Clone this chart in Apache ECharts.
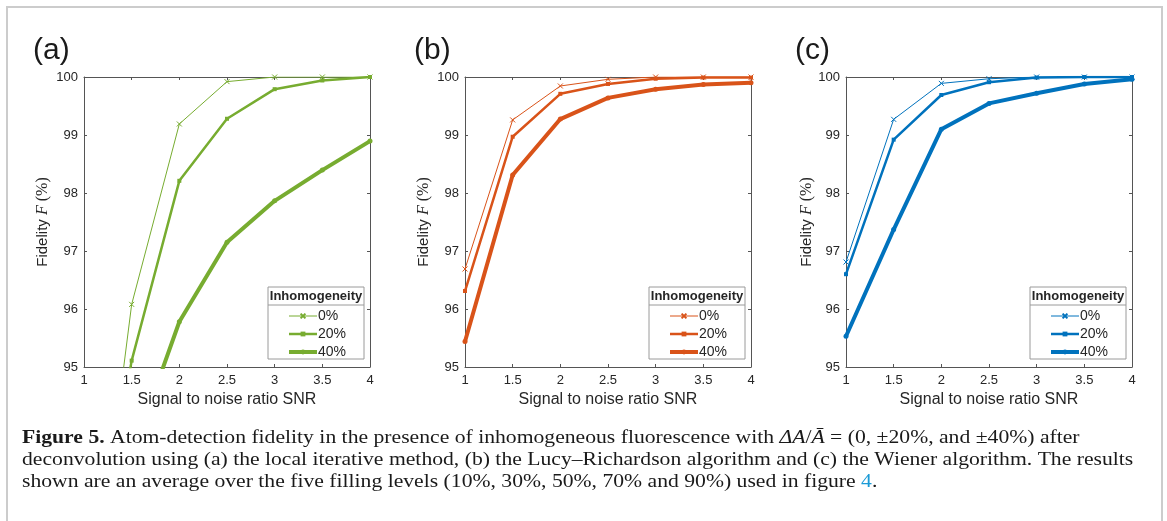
<!DOCTYPE html>
<html>
<head>
<meta charset="utf-8">
<script src="https://cdn.jsdelivr.net/npm/echarts@6/dist/echarts.min.js"></script>
<style>
  html, body { margin: 0; padding: 0; background: #fff; }
  #chart { width: 1167px; height: 521px; }
</style>
</head>
<body>
<div id="chart"></div>
<script>
// SNR values shared by all panels
const snr = [1, 1.5, 2, 2.5, 3, 3.5, 4];
const levels = ["0%", "20%", "40%"];

// (a) local iterative method
const localIter0 = [89.6, 96.08, 99.19, 99.92, 100, 100, 100];
const localIter20 = [90.5, 95.11, 98.21, 99.28, 99.79, 99.94, 100];
const localIter40 = [90.0, 93.47, 95.78, 97.15, 97.865, 98.395, 98.895];

// (b) Lucy–Richardson
const lucy0 = [96.69, 99.26, 99.845, 99.96, 100, 100, 100];
const lucy20 = [96.31, 98.97, 99.71, 99.88, 99.97, 99.99, 99.99];
const lucy40 = [95.44, 98.31, 99.275, 99.64, 99.79, 99.87, 99.9];

// (c) Wiener
const wiener0 = [96.81, 99.27, 99.89, 99.97, 100, 100, 100];
const wiener20 = [96.6, 98.92, 99.69, 99.91, 99.99, 100, 100];
const wiener40 = [95.53, 97.37, 99.1, 99.545, 99.72, 99.88, 99.96];

const panels = [
  { tag: "(a)", key: "a", color: "#77AC30", data: [localIter0, localIter20, localIter40] },
  { tag: "(b)", key: "b", color: "#D95319", data: [lucy0, lucy20, lucy40] },
  { tag: "(c)", key: "c", color: "#0072BD", data: [wiener0, wiener20, wiener40] },
];

const chart = echarts.init(document.getElementById("chart"));

const plotLeft = [84, 465, 846];
const plotTop = 77;
const plotW = 286;
const plotH = 290;
const axisColor = "#555555";
const sans = "Liberation Sans, Arial, sans-serif";
const widths = [1, 2.5, 4];
const crossPath = "path://M0,0L10,10M0,10L10,0";

let grid = [];
let xAxis = [];
let yAxis = [];
let series = [];
let legend = [];
let graphic = [];

panels.forEach((p, i) => {
  grid.push({ left: plotLeft[i], top: plotTop, width: plotW, height: plotH });
  // bottom axis with labels, top axis with ticks only
  xAxis.push({
    gridIndex: i,
    type: "value",
    min: 1,
    max: 4,
    interval: 0.5,
    name: "Signal to noise ratio SNR",
    nameLocation: "center",
    nameGap: 25,
    nameTextStyle: { fontFamily: sans, fontSize: 16, color: "#262626" },
    axisLine: { show: true, lineStyle: { color: axisColor, width: 1 } },
    axisTick: { show: true, inside: true, length: 3, lineStyle: { color: axisColor } },
    axisLabel: { fontFamily: sans, fontSize: 13, color: "#262626", margin: 7 },
    splitLine: { show: false },
  });
  xAxis.push({
    gridIndex: i,
    type: "value",
    position: "top",
    min: 1,
    max: 4,
    interval: 0.5,
    axisLine: { show: true, lineStyle: { color: axisColor, width: 1 } },
    axisTick: { show: true, inside: true, length: 3, lineStyle: { color: axisColor } },
    axisLabel: { show: false },
    splitLine: { show: false },
  });
  yAxis.push({
    gridIndex: i,
    type: "value",
    min: 95,
    max: 100,
    interval: 1,
    name: "{s|Fidelity }{f|F}{p| (%)}",
    nameLocation: "center",
    nameRotate: 90,
    nameGap: i === 2 ? 30 : 33,
    nameTextStyle: {
      color: "#262626",
      rich: {
        s: { fontFamily: sans, fontSize: 15, color: "#262626" },
        f: { fontFamily: "Liberation Serif, serif", fontStyle: "italic", fontSize: 16, color: "#262626" },
        p: { fontFamily: "Liberation Serif, serif", fontSize: 16, color: "#262626" },
      },
    },
    axisLine: { show: true, lineStyle: { color: axisColor, width: 1 } },
    axisTick: { show: true, inside: true, length: 3, lineStyle: { color: axisColor } },
    axisLabel: { fontFamily: sans, fontSize: 13, color: "#262626", margin: 6 },
    splitLine: { show: false },
  });
  yAxis.push({
    gridIndex: i,
    type: "value",
    position: "right",
    min: 95,
    max: 100,
    interval: 1,
    axisLine: { show: true, lineStyle: { color: axisColor, width: 1 } },
    axisTick: { show: true, inside: true, length: 3, lineStyle: { color: axisColor } },
    axisLabel: { show: false },
    splitLine: { show: false },
  });

  const legendItems = [];
  p.data.forEach((vals, j) => {
    const name = p.key + levels[j];
    legendItems.push({ name, lineStyle: { width: widths[j], color: p.color } });
    series.push({
      name,
      type: "line",
      xAxisIndex: 2 * i,
      yAxisIndex: 2 * i,
      clip: true,
      data: snr.map((x, k) => [x, vals[k]]),
      color: p.color,
      lineStyle: { width: widths[j], color: p.color },
      symbol: j === 0 ? crossPath : j === 1 ? "rect" : "circle",
      symbolSize: j === 0 ? 5 : j === 1 ? 4 : 5,
      itemStyle:
        j === 0
          ? { color: "none", borderColor: p.color, borderWidth: 1 }
          : { color: p.color, borderColor: p.color, borderWidth: 0 },
      emphasis: { disabled: true },
      z: 2 + j,
    });
  });

  const boxRight = plotLeft[i] + plotW - 6;
  const boxLeft = boxRight - 96;
  legend.push({
    data: legendItems,
    orient: "vertical",
    left: boxLeft + 19,
    top: 309,
    itemWidth: 28,
    itemHeight: 6,
    itemGap: 4,
    padding: 0,
    selectedMode: false,
    formatter: (n) => n.slice(1),
    textStyle: { fontFamily: sans, fontSize: 14, color: "#262626", padding: [0, 0, 0, -4] },
    z: 10,
  });
  graphic.push({
    type: "rect",
    shape: { x: boxLeft, y: 287, width: 96, height: 72 },
    style: { fill: "#fff", stroke: "#9a9a9a", lineWidth: 1 },
    z: 5,
  });
  graphic.push({
    type: "line",
    shape: { x1: boxLeft, y1: 305, x2: boxLeft + 96, y2: 305 },
    style: { stroke: "#9a9a9a", lineWidth: 1 },
    z: 6,
  });
  graphic.push({
    type: "text",
    x: boxLeft + 48,
    y: 296,
    style: {
      text: "Inhomogeneity",
      fontFamily: sans,
      fontWeight: "bold",
      fontSize: 13,
      fill: "#262626",
      align: "center",
      verticalAlign: "middle",
    },
    z: 6,
  });
  graphic.push({
    type: "text",
    x: plotLeft[i] - 51,
    y: 51,
    style: {
      text: p.tag,
      fontFamily: sans,
      fontSize: 30,
      fill: "#1a1a1a",
      verticalAlign: "middle",
    },
  });
});

// outer frame of the figure
graphic.push({
  type: "polyline",
  shape: { points: [[7, 530], [7, 7], [1162, 7], [1162, 530]] },
  style: { stroke: "#cccccc", lineWidth: 2, fill: "none" },
});

const serif = "Liberation Serif, Times New Roman, serif";
const capStyle = { fontFamily: serif, fontSize: 19, fill: "#1a1a1a" };
graphic.push({
  type: "text",
  x: 22,
  y: 427,
  scaleX: 1.14,
  style: {
    text:
      "{b|Figure 5.} Atom-detection fidelity in the presence of inhomogeneous fluorescence with {i|ΔA}/{i|Ā} = (0, ±20%, and ±40%) after\n" +
      "deconvolution using (a) the local iterative method, (b) the Lucy–Richardson algorithm and (c) the Wiener algorithm. The results\n" +
      "shown are an average over the five filling levels (10%, 30%, 50%, 70% and 90%) used in figure {l|4}.",
    ...capStyle,
    lineHeight: 22,
    rich: {
      b: { fontFamily: serif, fontSize: 19, fontWeight: "bold", fill: "#1a1a1a", lineHeight: 22 },
      i: { fontFamily: serif, fontSize: 19, fontStyle: "italic", fill: "#1a1a1a", lineHeight: 22 },
      l: { fontFamily: serif, fontSize: 19, fill: "#1a9ad6", lineHeight: 22 },
    },
  },
});

let option = {
  animation: false,
  backgroundColor: "#ffffff",
  grid,
  xAxis,
  yAxis,
  legend,
  series,
  graphic,
};
chart.setOption(option);
</script>
</body>
</html>
